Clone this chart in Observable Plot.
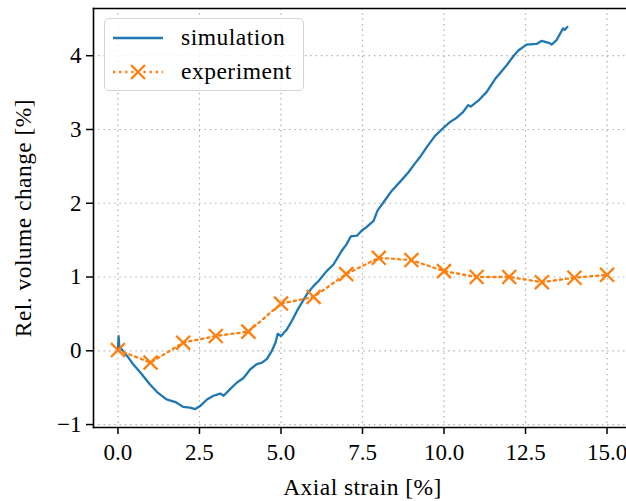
<!DOCTYPE html>
<html><head><meta charset="utf-8">
<script src="https://cdn.jsdelivr.net/npm/d3@7"></script>
<script src="https://cdn.jsdelivr.net/npm/@observablehq/plot@0.6"></script>
<style>
body{margin:0;background:#fff;}
#wrap{position:relative;width:626px;height:501px;overflow:hidden;}
#wrap svg text{font-family:"Liberation Serif",serif;}
#legend{position:absolute;left:104px;top:18px;width:200px;height:73px;box-sizing:border-box;border:1.3px solid #d4d4d4;border-radius:5px;background:rgba(255,255,255,0.8);font-family:"Liberation Serif",serif;font-size:23.5px;letter-spacing:0.5px;color:#000;}
#legend .row{position:absolute;left:0;height:34px;width:100%;}
#legend .row svg{position:absolute;left:8px;top:0;}
#legend .row span{position:absolute;left:76px;top:50%;transform:translateY(-50%);line-height:1;white-space:nowrap;}
</style></head>
<body>
<div id="wrap"></div>
<script>
// ---- data ----
const simX = [0.00,0.02,0.04,0.15,0.30,0.46,0.70,0.97,1.20,1.49,1.79,2.00,2.21,2.37,2.52,2.73,2.93,3.14,3.24,3.44,3.65,3.85,4.06,4.26,4.42,4.57,4.72,4.83,4.90,5.00,5.18,5.34,5.49,5.65,5.80,6.00,6.16,6.40,6.61,6.87,7.02,7.14,7.33,7.48,7.63,7.84,7.96,8.19,8.40,8.65,8.91,9.11,9.27,9.47,9.72,10.00,10.18,10.39,10.59,10.74,10.82,11.05,11.31,11.56,11.71,11.92,12.12,12.28,12.53,12.84,12.99,13.24,13.30,13.45,13.65,13.70,13.78];
const simY = [0.02,0.20,0.06,0.00,-0.08,-0.18,-0.30,-0.45,-0.56,-0.66,-0.70,-0.76,-0.77,-0.79,-0.75,-0.66,-0.61,-0.58,-0.61,-0.52,-0.43,-0.37,-0.25,-0.18,-0.16,-0.11,0.00,0.11,0.23,0.20,0.29,0.41,0.54,0.66,0.77,0.88,0.95,1.08,1.17,1.36,1.45,1.55,1.56,1.63,1.68,1.76,1.90,2.04,2.17,2.29,2.42,2.54,2.63,2.76,2.91,3.03,3.10,3.16,3.24,3.33,3.31,3.39,3.51,3.68,3.76,3.87,3.99,4.07,4.15,4.16,4.20,4.17,4.15,4.21,4.37,4.35,4.39];
const expX = [0,1,2,3,4,5,6,7,8,9,10,11,12,13,14,15];
const expY = [0.01,-0.16,0.11,0.20,0.26,0.64,0.73,1.04,1.26,1.23,1.08,1.00,1.00,0.93,0.99,1.03];
const xTicks = [0,2.5,5,7.5,10,12.5,15];
const yTicks = [-1,0,1,2,3,4];
const seriesNames = ["simulation","experiment"];
const xLabel = "Axial strain [%]";
const yLabel = "Rel. volume change [%]";

// ---- build ----
const blue = "#1f77b4", orange = "#ff7f0e";
const sim = simX.map((x,i)=>({x, y: simY[i]}));
const exp = expX.map((x,i)=>({x, y: expY[i]}));
const font = "'Liberation Serif', serif";

const chart = Plot.plot({
  width: 626, height: 501,
  marginLeft: 93, marginRight: -5, marginTop: 8, marginBottom: 74,
  style: {fontFamily: font, fontSize: "23px", background: "#fff", color: "#000"},
  x: {domain: [-0.75, 15.75]},
  y: {domain: [-1.04, 4.64]},
  marks: [
    Plot.gridX(xTicks, {stroke: "#b0b0b0", strokeOpacity: 1, strokeWidth: 1.2, strokeDasharray: "1.5,3.8"}),
    Plot.gridY(yTicks, {stroke: "#b0b0b0", strokeOpacity: 1, strokeWidth: 1.2, strokeDasharray: "1.5,3.8"}),
    Plot.line(sim, {x: "x", y: "y", stroke: blue, strokeWidth: 2.3}),
    Plot.line(exp, {x: "x", y: "y", stroke: orange, strokeWidth: 2.3, strokeDasharray: "2.3,3.8"}),
    Plot.dot(exp, {x: "x", y: "y", symbol: "times", r: 6.4, stroke: orange, strokeWidth: 2.3}),
    Plot.frame({anchor: "left", stroke: "#000", strokeWidth: 1.6}),
    Plot.frame({anchor: "top", stroke: "#000", strokeWidth: 1.6}),
    Plot.frame({anchor: "bottom", stroke: "#000", strokeWidth: 1.6}),
    Plot.axisX(xTicks, {tickSize: 7, tickPadding: 9, strokeWidth: 1.5, tickFormat: d3.format(".1f"), label: null, fontSize: 23, fontFamily: font}),
    Plot.axisY(yTicks, {tickSize: 7, tickPadding: 5, strokeWidth: 1.5, tickFormat: d3.format("d"), label: null, fontSize: 23, fontFamily: font}),
    Plot.text([xLabel], {frameAnchor: "bottom", dy: 60, text: d => d, fontSize: 23.5, fontFamily: font, textAnchor: "middle", lineAnchor: "middle"}),
    Plot.text([yLabel], {frameAnchor: "left", dx: -70, text: d => d, fontSize: 23.5, fontFamily: font, rotate: -90, textAnchor: "middle", lineAnchor: "middle"})
  ]
});
d3.select(chart).selectAll("text")
  .filter(function(){ return this.textContent === xLabel || this.textContent === yLabel; })
  .style("letter-spacing", "0.45px");
const wrap = document.getElementById("wrap");
wrap.appendChild(chart);

// ---- legend (inside axes, upper left) ----
const legend = document.createElement("div");
legend.id = "legend";
const rowTops = [2, 36];
seriesNames.forEach((name, i) => {
  const row = document.createElement("div");
  row.className = "row";
  row.style.top = rowTops[i] + "px";
  const ns = "http://www.w3.org/2000/svg";
  const svg = document.createElementNS(ns, "svg");
  svg.setAttribute("width", 52); svg.setAttribute("height", 34);
  const ln = document.createElementNS(ns, "line");
  ln.setAttribute("x1", 0); ln.setAttribute("x2", 50);
  ln.setAttribute("y1", 17); ln.setAttribute("y2", 17);
  ln.setAttribute("stroke", i === 0 ? blue : orange);
  ln.setAttribute("stroke-width", 2.3);
  if (i === 1) ln.setAttribute("stroke-dasharray", "2.3,3.8");
  svg.appendChild(ln);
  if (i === 1) {
    const p = document.createElementNS(ns, "path");
    p.setAttribute("d", "M18,10L32,24M18,24L32,10");
    p.setAttribute("stroke", orange); p.setAttribute("stroke-width", 2.3);
    svg.appendChild(p);
  }
  row.appendChild(svg);
  const sp = document.createElement("span");
  sp.textContent = name;
  row.appendChild(sp);
  legend.appendChild(row);
});
wrap.appendChild(legend);
</script>
</body></html>
